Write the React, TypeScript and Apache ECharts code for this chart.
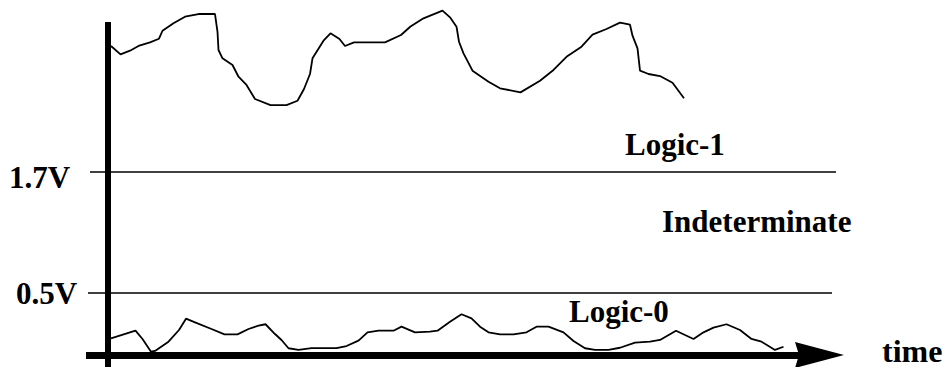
import { useEffect, useRef } from "react";
import * as echarts from "echarts";

// time (arbitrary units) vs. voltage (V)
const highSignal: [number, number][] = [
  [0.6, 2.95], [2.5, 2.867], [4.4, 2.903], [6.1, 2.95], [8.4, 2.986], [10.2, 3.022],
  [10.9, 3.101], [13.1, 3.175], [15.4, 3.24], [18.1, 3.267], [21.4, 3.267], [21.9, 3.091],
  [22.1, 2.91], [22.9, 2.828], [24.9, 2.761], [26.1, 2.645], [27.7, 2.563], [29.4, 2.424],
  [32.5, 2.364], [35.7, 2.364], [37.9, 2.407], [39.2, 2.523], [40.4, 2.672], [40.9, 2.828],
  [43.1, 3.002], [44.5, 3.076], [46.3, 3.019], [47.4, 2.95], [49.2, 2.986], [55.4, 2.986],
  [58.6, 3.059], [60.5, 3.143], [63.1, 3.224], [66.9, 3.3], [68.4, 3.234], [69.7, 3.141],
  [70.2, 2.992], [71.1, 2.877], [72.9, 2.705], [76.1, 2.596], [78.4, 2.53], [82.5, 2.49],
  [86.4, 2.605], [89.1, 2.712], [91.7, 2.843], [94.7, 2.943], [96.9, 3.062], [99.7, 3.118],
  [102.4, 3.181], [104.4, 3.161], [104.9, 3.052], [105.9, 2.927], [106.4, 2.705], [108.1, 2.672],
  [110.4, 2.652], [112.9, 2.586], [115.2, 2.431],
];

const lowSignal: [number, number][] = [
  [0.6, 0.049], [5.5, 0.126], [6.9, 0.044], [8.6, -0.082], [9.4, -0.075], [12.1, 0.017],
  [14.2, 0.133], [15.6, 0.245], [17.4, 0.209], [20.7, 0.143], [23.3, 0.09], [25.9, 0.09],
  [28.1, 0.143], [30.1, 0.176], [31.5, 0.19], [33.4, 0.093], [34.7, 0.034], [36.1, -0.048],
  [38.1, -0.065], [40.7, -0.046], [45.7, -0.046], [47.7, -0.026], [50.1, 0.027], [51.9, 0.11],
  [54.1, 0.126], [57.1, 0.126], [58.7, 0.166], [61.4, 0.11], [64.4, 0.116], [65.9, 0.126],
  [68.4, 0.215], [70.7, 0.289], [72.7, 0.249], [74.4, 0.166], [76.1, 0.11], [78.4, 0.09],
  [81.1, 0.09], [83.7, 0.11], [85.7, 0.166], [88.1, 0.166], [91.1, 0.11], [93.1, 0.024],
  [95.4, -0.048], [97.4, -0.065], [100.1, -0.065], [102.4, -0.043], [105.4, 0.007], [108.4, 0.017],
  [110.4, 0.034], [113.6, 0.126], [117.1, 0.044], [119.1, 0.11], [121.1, 0.156], [123.7, 0.19],
  [126.4, 0.133], [128.7, 0.044], [130.7, 0.017], [133.4, -0.065], [135.1, -0.033],
];

const thresholdValues = [1.7, 0.5];
const thresholdLabels = ["1.7V", "0.5V"];
const thresholdSpans: [number, number][] = [[-3.6, 145.6], [-4, 144.8]];
const regionLabels = ["Logic-1", "Indeterminate", "Logic-0"];
const timeLabel = "time";

const timeAxisLevel = -0.115;
const timeAxisSpan: [number, number] = [-4.4, 142.3];
const voltAxisSpan: [number, number] = [-0.234, 3.188];

const X_MIN = -21.6;
const X_MAX = 168.8;
const Y_MIN = -0.234;
const Y_MAX = 3.406;

const FONT = '"Liberation Serif", "Times New Roman", serif';

export default function App() {
  const ref = useRef<HTMLDivElement>(null);

  useEffect(() => {
    if (!ref.current) return;
    const chart = echarts.init(ref.current, null, { renderer: "svg" });

    const textStyle = (size: number) => ({
      fontFamily: FONT,
      fontWeight: "bold",
      fontSize: size,
      fill: "#000",
      verticalAlign: "middle",
      align: "left",
    });

    const labelPos: [number, number][] = [[625, 144.5], [662, 221.5], [569, 311.5]];
    const thresholdPos: [number, number][] = [[9, 177.5], [16, 293.5]];

    chart.setOption({
      animation: false,
      backgroundColor: "#fff",
      grid: { left: 0, right: 0, top: 0, bottom: 0 },
      xAxis: { type: "value", min: X_MIN, max: X_MAX, show: false },
      yAxis: { type: "value", min: Y_MIN, max: Y_MAX, show: false },
      series: [
        {
          type: "line",
          data: highSignal,
          symbol: "none",
          lineStyle: { color: "#000", width: 1.8 },
          silent: true,
        },
        {
          type: "line",
          data: lowSignal,
          symbol: "none",
          lineStyle: { color: "#000", width: 1.8 },
          silent: true,
        },
        {
          type: "line",
          data: [[0, voltAxisSpan[0]], [0, voltAxisSpan[1]]],
          symbol: "none",
          lineStyle: { color: "#000", width: 6, cap: "butt" },
          silent: true,
          markLine: {
            silent: true,
            symbol: ["none", "none"],
            label: { show: false },
            lineStyle: { color: "#000", width: 1.6, type: "solid" },
            data: [
              [
                { coord: [timeAxisSpan[0], timeAxisLevel], symbol: "none", lineStyle: { width: 7, color: "#000", type: "solid" } },
                { coord: [timeAxisSpan[1], timeAxisLevel], symbol: "path://M13,0 L26,49 L13,45 L0,49 Z", symbolSize: [26, 49] },
              ],
              ...thresholdValues.map((v, i) => [
                { coord: [thresholdSpans[i][0], v] },
                { coord: [thresholdSpans[i][1], v] },
              ]),
            ],
          },
        },
      ],
      graphic: [
        ...thresholdLabels.map((t, i) => ({
          type: "text",
          x: thresholdPos[i][0],
          y: thresholdPos[i][1],
          silent: true,
          style: { text: t, ...textStyle(31) },
        })),
        ...regionLabels.map((t, i) => ({
          type: "text",
          x: labelPos[i][0],
          y: labelPos[i][1],
          silent: true,
          style: { text: t, ...textStyle(31) },
        })),
        {
          type: "text",
          x: 882,
          y: 350.5,
          silent: true,
          style: { text: timeLabel, ...textStyle(32) },
        },
      ],
    });

    return () => chart.dispose();
  }, []);

  return (
    <div
      ref={ref}
      style={{ position: "fixed", left: 0, top: 0, width: 952, height: 367 }}
    />
  );
}
